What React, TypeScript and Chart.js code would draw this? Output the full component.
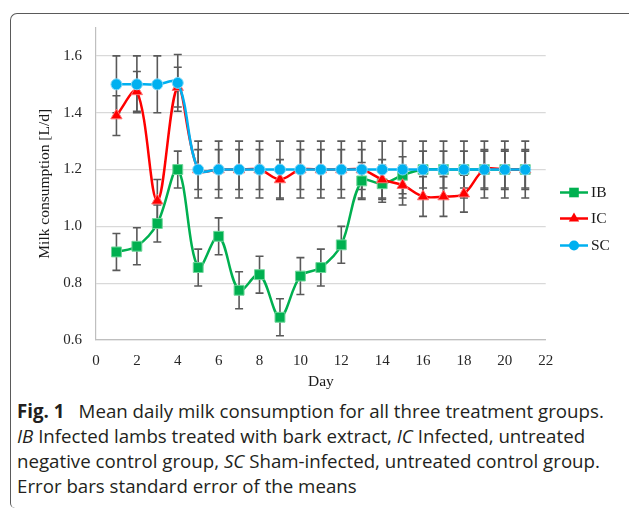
import React, { useEffect, useRef } from "react";
import { Chart, registerables } from "chart.js";

Chart.register(...registerables);

const days = [1, 2, 3, 4, 5, 6, 7, 8, 9, 10, 11, 12, 13, 14, 15, 16, 17, 18, 19, 20, 21];
const ibValues = [0.91, 0.93, 1.01, 1.2, 0.855, 0.965, 0.775, 0.83, 0.68, 0.825, 0.855, 0.935, 1.16, 1.15, 1.18, 1.2, 1.2, 1.2, 1.2, 1.2, 1.2];
const icValues = [1.39, 1.475, 1.09, 1.49, 1.2, 1.2, 1.2, 1.2, 1.165, 1.2, 1.2, 1.2, 1.2, 1.165, 1.145, 1.105, 1.105, 1.115, 1.2, 1.2, 1.2];
const scValues = [1.5, 1.5, 1.5, 1.505, 1.2, 1.2, 1.2, 1.2, 1.2, 1.2, 1.2, 1.2, 1.2, 1.2, 1.2, 1.2, 1.2, 1.2, 1.2, 1.2, 1.2];
const ibErrors = [0.065, 0.065, 0.065, 0.065, 0.065, 0.065, 0.065, 0.065, 0.065, 0.065, 0.065, 0.065, 0.065, 0.065, 0.065, 0.065, 0.065, 0.065, 0.065, 0.065, 0.065];
const icErrors = [0.07, 0.07, 0.075, 0.07, 0.07, 0.07, 0.07, 0.07, 0.07, 0.07, 0.07, 0.07, 0.07, 0.07, 0.07, 0.07, 0.07, 0.065, 0.07, 0.07, 0.07];
const scErrors = [0.1, 0.1, 0.1, 0.1, 0.1, 0.1, 0.1, 0.1, 0.1, 0.1, 0.1, 0.1, 0.1, 0.1, 0.1, 0.1, 0.1, 0.1, 0.1, 0.1, 0.1];
const seriesNames = ["IB", "IC", "SC"];
const seriesColors = ["#00B050", "#FF0000", "#00B0F0"];
const seriesMarkers = ["rect", "triangle", "circle"];

const yTitle = "Milk consumption [L/d]";
const xTitle = "Day";

const SERIF = "'Liberation Serif', 'Times New Roman', serif";

function toPoints(vals: number[]) {
  return days.map((d, i) => ({ x: d, y: vals[i] }));
}

function drawMarker(ctx: CanvasRenderingContext2D, style: string, x: number, y: number, color: string) {
  ctx.fillStyle = color;
  ctx.beginPath();
  if (style === "rect") {
    ctx.rect(x - 4.8, y - 4.8, 9.6, 9.6);
  } else if (style === "triangle") {
    const r = 6;
    ctx.moveTo(x, y - r);
    ctx.lineTo(x + r * 0.866, y + r * 0.5);
    ctx.lineTo(x - r * 0.866, y + r * 0.5);
    ctx.closePath();
  } else {
    ctx.arc(x, y, 5, 0, Math.PI * 2);
  }
  ctx.fill();
}

const errorBarsPlugin = {
  id: "errorBars",
  beforeDatasetsDraw(chart: any) {
    const { ctx, scales } = chart;
    const xs = scales.x;
    const ys = scales.y;
    ctx.save();
    ctx.strokeStyle = "#595959";
    ctx.lineWidth = 1.6;
    chart.data.datasets.forEach((ds: any) => {
      const errs: number[] = ds.errors;
      ds.data.forEach((p: any, j: number) => {
        const px = xs.getPixelForValue(p.x);
        const top = ys.getPixelForValue(p.y + errs[j]);
        const bot = ys.getPixelForValue(p.y - errs[j]);
        ctx.beginPath();
        ctx.moveTo(px, top);
        ctx.lineTo(px, bot);
        ctx.moveTo(px - 4, top);
        ctx.lineTo(px + 4, top);
        ctx.moveTo(px - 4, bot);
        ctx.lineTo(px + 4, bot);
        ctx.stroke();
      });
    });
    ctx.restore();
  },
};

const legendPlugin = {
  id: "customLegend",
  afterDraw(chart: any) {
    const { ctx } = chart;
    ctx.save();
    const ys = [192.5, 218.5, 245.5];
    seriesNames.forEach((name, i) => {
      const y = ys[i];
      ctx.strokeStyle = seriesColors[i];
      ctx.lineWidth = 2.5;
      ctx.beginPath();
      ctx.moveTo(560, y);
      ctx.lineTo(588, y);
      ctx.stroke();
      drawMarker(ctx, seriesMarkers[i], 574, y, seriesColors[i]);
      ctx.fillStyle = "#1a1a1a";
      ctx.font = "15.5px " + SERIF;
      ctx.textBaseline = "middle";
      ctx.textAlign = "left";
      ctx.fillText(name, 591, y + 0.5);
    });
    ctx.restore();
  },
};

function ChartCanvas() {
  const ref = useRef<HTMLCanvasElement | null>(null);
  useEffect(() => {
    if (!ref.current) return;
    const vals = [ibValues, icValues, scValues];
    const errs = [ibErrors, icErrors, scErrors];
    const borderCols = ["#6fd69a", "#ff7070", "#7fd8f8"];
    const chart = new Chart(ref.current, {
      type: "line",
      data: {
        datasets: seriesNames.map((name, i) => ({
          label: name,
          data: toPoints(vals[i]),
          errors: errs[i],
          borderColor: seriesColors[i],
          backgroundColor: seriesColors[i],
          pointBackgroundColor: seriesColors[i],
          pointBorderColor: borderCols[i],
          pointBorderWidth: 1,
          pointStyle: seriesMarkers[i],
          pointRadius: i === 0 ? 7 : i === 1 ? 6.5 : 5.5,
          borderWidth: 2.5,
          tension: 0.35,
          order: 2 - i,
          fill: false,
        })) as any,
      },
      options: {
        animation: false,
        responsive: false,
        devicePixelRatio: 1,
        layout: { padding: { left: 0, top: 27.5, right: 84.3, bottom: 0 } },
        plugins: {
          legend: { display: false },
          tooltip: { enabled: false },
        },
        scales: {
          x: {
            type: "linear",
            min: 0,
            max: 22,
            ticks: {
              stepSize: 2,
              padding: 12,
              color: "#262626",
              font: { family: SERIF, size: 15 },
            },
            grid: { display: false, drawTicks: false },
            border: { display: true, color: "#bfbfbf", width: 1.2 },
            title: {
              display: true,
              text: xTitle,
              color: "#1a1a1a",
              font: { family: SERIF, size: 15.5 },
              padding: { top: 0, bottom: 4 },
            },
            afterFit(scale: any) {
              scale.height = 55;
            },
          },
          y: {
            type: "linear",
            min: 0.6,
            max: 1.7,
            ticks: {
              stepSize: 0.2,
              padding: 14,
              color: "#262626",
              font: { family: SERIF, size: 15 },
              callback: (v: any) => (Number(v) > 1.65 ? "" : Number(v).toFixed(1)),
            },
            grid: {
              drawTicks: false,
              color: (c: any) => (c.tick && c.tick.value > 1.65 ? "rgba(0,0,0,0)" : "#d9d9d9"),
              lineWidth: 1.2,
            },
            border: { display: true, color: "#bfbfbf", width: 1.2 },
            title: {
              display: true,
              text: yTitle,
              color: "#1a1a1a",
              font: { family: SERIF, size: 15.5 },
              padding: { top: 36, bottom: 0 },
            },
            afterFit(scale: any) {
              scale.width = 96;
            },
          },
        },
      } as any,
      plugins: [errorBarsPlugin, legendPlugin],
    });
    return () => chart.destroy();
  }, []);
  return <canvas ref={ref} width={630} height={395} style={{ position: "absolute", left: 0, top: 0, width: 630, height: 395 }} />;
}

const captionLines = [
  [
    { t: "Fig. 1", b: true },
    { t: "\u2002 Mean daily milk consumption for all three treatment groups." },
  ],
  [{ t: "IB", i: true }, { t: " Infected lambs treated with bark extract, " }, { t: "IC", i: true }, { t: " Infected, untreated" }],
  [{ t: "negative control group, " }, { t: "SC", i: true }, { t: " Sham-infected, untreated control group." }],
  [{ t: "Error bars standard error of the means" }],
];

export default function App() {
  return (
    <div style={{ position: "absolute", left: 0, top: 0, width: 630, height: 509, background: "#fff", overflow: "hidden" }}>
      <div
        style={{
          position: "absolute",
          left: 10,
          top: 13,
          width: 618,
          height: 494,
          borderTop: "1.3px solid #5a5a5a",
          borderLeft: "1.3px solid #5a5a5a",
          borderTopLeftRadius: 7,
          borderBottomLeftRadius: 5,
        }}
      />
      <ChartCanvas />
      <div
        style={{
          position: "absolute",
          left: 17,
          top: 397.5,
          fontFamily: "'Open Sans', Lato, sans-serif",
          fontSize: 18.7,
          lineHeight: "25px",
          color: "#231f20",
          whiteSpace: "nowrap",
        }}
      >
        {captionLines.map((line, li) => (
          <div key={li}>
            {line.map((seg: any, si) => (
              <span key={si} style={{ fontWeight: seg.b ? 700 : 400, fontStyle: seg.i ? "italic" : "normal" }}>
                {seg.t}
              </span>
            ))}
          </div>
        ))}
      </div>
    </div>
  );
}
